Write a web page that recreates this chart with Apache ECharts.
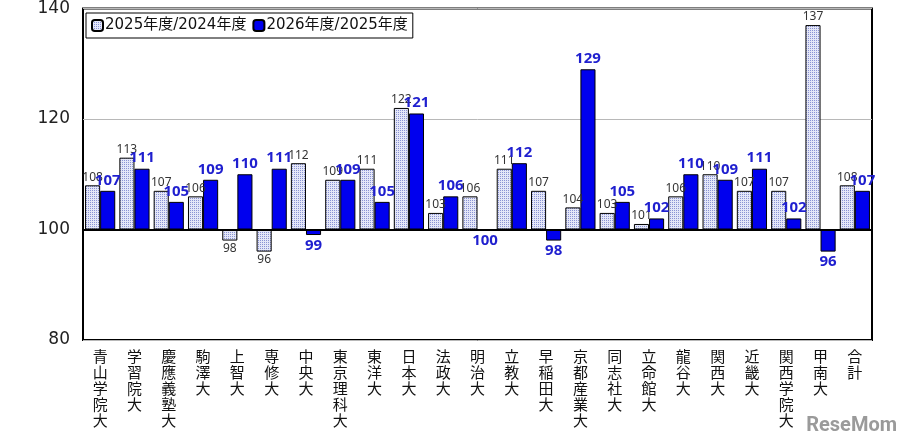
<!DOCTYPE html>
<html lang="ja">
<head>
  <meta charset="UTF-8">
  <title>志願者数 前年度比</title>
  <script src="https://cdn.jsdelivr.net/npm/echarts@6/dist/echarts.min.js"></script>
  <style>
    html, body { margin: 0; padding: 0; background: #fff; }
  </style>
</head>
<body>
<div id="main" style="width: 911px; height: 448px;"></div>
<script>
  var universities = ['青山学院大', '学習院大', '慶應義塾大', '駒澤大', '上智大', '専修大', '中央大', '東京理科大',
    '東洋大', '日本大', '法政大', '明治大', '立教大', '早稲田大', '京都産業大', '同志社大', '立命館大',
    '龍谷大', '関西大', '近畿大', '関西学院大', '甲南大', '合計']
  var ratio2025 = [108, 113, 107, 106, 98, 96, 112, 109, 111, 122, 103, 106, 111, 107, 104, 103, 101, 106, 110, 107, 107, 137, 108]
  var ratio2026 = [107, 111, 105, 109, 110, 111, 99, 109, 105, 121, 106, 100, 112, 98, 129, 105, 102, 110, 109, 111, 102, 96, 107]
  var yTicks = [80, 100, 120, 140]
  var BASE = 100

  // dotted fill for the first series
  function dotPattern() {
    var c = document.createElement('canvas')
    c.width = 2
    c.height = 2
    var ctx = c.getContext('2d')
    ctx.fillStyle = '#e4e7f8'
    ctx.fillRect(0, 0, 2, 2)
    ctx.fillStyle = '#8a93d4'
    ctx.fillRect(0, 0, 1, 1)
    return c
  }

  // bars are drawn relative to 100
  function toItems(values, labelStyle) {
    return values.map(function (v) {
      return {
        value: v - BASE,
        label: Object.assign({ position: v > BASE ? 'top' : 'bottom' }, labelStyle)
      }
    })
  }

  var chart = echarts.init(document.getElementById('main'))
  var font = '"DejaVu Sans", "Noto Sans CJK JP", sans-serif'
  var cjk = '"Noto Sans CJK JP", sans-serif'
  var labelFont = '"Noto Sans", sans-serif'

  chart.setOption({
    animation: false,
    textStyle: { fontFamily: font },
    grid: {
      left: 83, right: 39, top: 7, bottom: 108,
      show: true, borderColor: '#000', borderWidth: 2, backgroundColor: '#fff'
    },
    legend: {
      left: 86, top: 13,
      orient: 'horizontal',
      backgroundColor: '#fff',
      borderColor: '#000', borderWidth: 1, borderRadius: 0,
      padding: [5, 5, 5, 5],
      itemWidth: 11, itemHeight: 11, itemGap: 6,
      textStyle: { fontSize: 15, color: '#111', fontFamily: font, padding: [0, 0, 0, -3] }
    },
    xAxis: {
      type: 'category',
      data: universities,
      axisLine: { show: false },
      axisTick: { show: false },
      axisLabel: {
        interval: 0,
        fontSize: 15,
        lineHeight: 16,
        color: '#111',
        fontFamily: cjk,
        verticalAlign: 'top',
        margin: 8,
        formatter: function (s) { return s.split('').join('\n') }
      }
    },
    yAxis: {
      type: 'value',
      min: yTicks[0] - BASE,
      max: yTicks[yTicks.length - 1] - BASE,
      interval: yTicks[1] - yTicks[0],
      axisLine: { show: false },
      axisTick: { show: false },
      axisLabel: {
        fontSize: 17, color: '#222', margin: 13,
        formatter: function (v) { return v + BASE }
      },
      splitLine: { show: true, lineStyle: { color: '#b8b8b8', width: 1 } }
    },
    series: [
      {
        name: '2025年度/2024年度',
        type: 'bar',
        barGap: '0%',
        barCategoryGap: '12%',
        itemStyle: {
          color: { image: dotPattern(), repeat: 'repeat' },
          borderColor: '#000', borderWidth: 1
        },
        label: {
          show: true, distance: 2,
          formatter: function (p) { return p.value + BASE }
        },
        data: toItems(ratio2025, { fontSize: 12, color: '#333', fontFamily: labelFont }),
        markLine: {
          silent: true,
          symbol: 'none',
          label: { show: false },
          lineStyle: { color: '#000', width: 2, type: 'solid' },
          data: [{ yAxis: 0 }]
        },
        z: 2
      },
      {
        name: '2026年度/2025年度',
        type: 'bar',
        itemStyle: { color: '#0000ee', borderColor: '#000', borderWidth: 1 },
        label: {
          show: true, distance: 3,
          formatter: function (p) { return p.value + BASE }
        },
        data: toItems(ratio2026, { fontSize: 15, fontWeight: 'bold', color: '#1f1fcf', fontFamily: labelFont }),
        z: 2
      }
    ],
    graphic: [
      {
        type: 'text', right: 14, bottom: 12,
        style: { text: 'ReseMom', fill: '#9a9a9a', fontSize: 20, fontWeight: 'bold', fontFamily: 'Roboto, sans-serif' }
      }
    ]
  })
</script>
</body>
</html>
